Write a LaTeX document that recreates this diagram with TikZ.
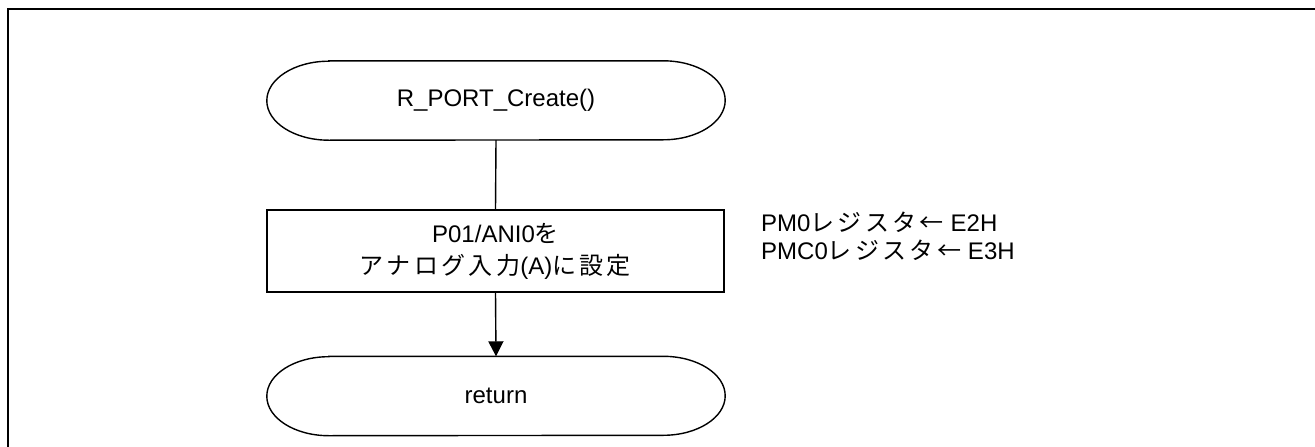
\documentclass[tikz,border=0pt]{standalone}
\usepackage{fontspec}
\setmainfont{Liberation Sans}
\newfontfamily\jp[LetterSpace=14]{Noto Sans CJK JP}
\usetikzlibrary{arrows.meta}
\newcommand\drawterm[1]{%
  \draw[shapeline] ([xshift=62pt]#1.north west) -- ([xshift=-62pt]#1.north east)
    arc[start angle=90,end angle=-90,x radius=62pt,y radius=39.5pt]
    -- ([xshift=62pt]#1.south west)
    arc[start angle=270,end angle=90,x radius=62pt,y radius=39.5pt] -- cycle;}
\begin{document}
\begin{tikzpicture}[x=1pt,y=-1pt,
  every node/.style={font=\fontsize{24}{32}\selectfont, inner sep=0pt},
  shapeline/.style={line width=1.4pt},
  termnode/.style={minimum width=458pt, minimum height=79pt},
  procbox/.style={draw, shapeline, minimum width=457pt, minimum height=82pt, align=center},
  flow/.style={line width=1.4pt},
  flowarrow/.style={flow, -{Triangle[length=15pt,width=15pt]}},
  notetext/.style={anchor=west, align=left, font=\fontsize{24}{28}\selectfont}
]
\useasboundingbox (0,0) rectangle (1315,447);
\draw[line width=2.2pt] (8,460) -- (8,9) -- (1330,9);
\node[termnode] (start) at (496,100.5) {R\_PORT\_Create()};
\node[procbox] (set) at (495.5,251) {P01/ANI0{\jp を}\\{\jp アナログ入力}(A){\jp に設定}};
\node[termnode] (ret) at (496,396) {return};
\node[notetext] (note) at (761,236) {PM0{\jp レジスタ←} E2H\\PMC0{\jp レジスタ←} E3H};
\drawterm{start}
\drawterm{ret}
\draw[flow] (start.south) -- (set.north);
\draw[flowarrow] (set.south) -- (ret.north);
\end{tikzpicture}
\end{document}
